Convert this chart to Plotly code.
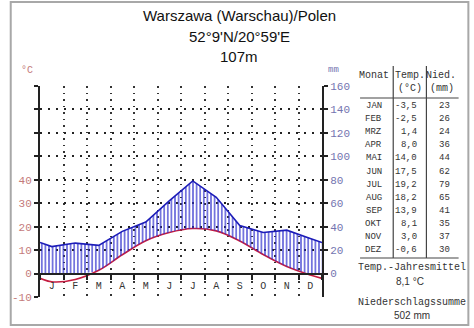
import numpy as np
import plotly.graph_objects as go

# Monthly climate normals, Warszawa
months = ["JAN", "FEB", "MRZ", "APR", "MAI", "JUN", "JUL", "AUG", "SEP", "OKT", "NOV", "DEZ"]
month_letters = ["J", "F", "M", "A", "M", "J", "J", "A", "S", "O", "N", "D"]
temp_c = [-3.5, -2.5, 1.4, 8.0, 14.0, 17.5, 19.2, 18.2, 13.9, 8.1, 3.0, -0.6]
precip_mm = [23, 26, 24, 36, 44, 62, 79, 65, 41, 35, 37, 30]
temp_labels = ["-3,5", "-2,5", "1,4", "8,0", "14,0", "17,5", "19,2", "18,2", "13,9", "8,1", "3,0", "-0,6"]
annual_mean = "8,1 °C"
annual_sum = "502 mm"

title_lines = ["Warszawa (Warschau)/Polen", "52°9'N/20°59'E", "107m"]
temp_ticks = [-10, 0, 10, 20, 30, 40, 50, 60, 70, 80]
temp_ticktext = ["-10", "0", "10", "20", "30", "40", "", "", "", ""]
precip_ticks = [0, 20, 40, 60, 80, 100, 120, 140, 160]

# Curves run across the whole year: month centres plus the year boundary,
# where the value wraps between December and January.
centres = np.arange(12) + 0.5
x_ext = np.concatenate([[0.0], centres, [12.0]])
t_arr = np.array(temp_c)
p_arr = np.array(precip_mm, dtype=float)
t_edge = (t_arr[0] + t_arr[-1]) / 2
p_edge = (p_arr[0] + p_arr[-1]) / 2
t_ext = np.concatenate([[t_edge], t_arr, [t_edge]])
p_ext = np.concatenate([[p_edge], p_arr, [p_edge]])

# Walter-Lieth scale: 10 °C corresponds to 20 mm
humid_base = np.maximum(2 * t_ext, 0)

W, H = 474, 328
L, R, T, B = 33, 322, 86, 297
PW, PH = R - L, B - T


def fx(px):
    return (px - L) / PW


def fy(py):
    return (B - py) / PH


MONO = "Liberation Mono"
SANS = "Liberation Sans"
INK = "#222222"
TEMP_C = "#c41c40"
PREC_C = "#1c1cb8"
TEMP_LBL = "#c47a7a"
PREC_LBL = "#7474b0"
TXT = "#333333"

fig = go.Figure()

# lower edge of the humid area (temperature on the mm scale, clipped at 0)
fig.add_trace(go.Scatter(
    x=x_ext, y=humid_base, yaxis="y2", mode="lines",
    line=dict(width=0, shape="spline", color="rgba(0,0,0,0)"),
    hoverinfo="skip", showlegend=False,
))
# precipitation with vertical hatching down to the temperature curve
fig.add_trace(go.Scatter(
    x=x_ext, y=p_ext, yaxis="y2", mode="lines",
    line=dict(color=PREC_C, width=1.6),
    fill="tonexty", fillcolor="rgba(0,0,0,0)",
    fillpattern=dict(shape="|", size=3.6, solidity=0.33, fgcolor="#2a2acc",
                     bgcolor="rgba(255,255,255,0)", fillmode="replace"),
    showlegend=False, name="Niederschlag",
))
# temperature
fig.add_trace(go.Scatter(
    x=x_ext, y=t_ext, yaxis="y", mode="lines",
    line=dict(color=TEMP_C, width=1.6, shape="spline"),
    showlegend=False, name="Temperatur",
))

fig.update_layout(
    width=W, height=H, autosize=False,
    margin=dict(l=L, r=W - R, t=T, b=H - B),
    plot_bgcolor="white", paper_bgcolor="white",
    showlegend=False,
    xaxis=dict(
        range=[0, 12], anchor="free", position=10 / 90,
        tickmode="array", tickvals=centres, ticktext=month_letters,
        ticks="", showgrid=False, zeroline=False,
        showline=True, linecolor=INK, linewidth=2,
        tickfont=dict(family=MONO, size=10, color=TXT),
        ticklabelstandoff=2,
        minor=dict(tickmode="array", tickvals=list(range(13)),
                   ticks="outside", ticklen=5, tickwidth=2, tickcolor=INK,
                   showgrid=True, gridcolor="#333333", griddash="1.5px,5px", gridwidth=1.5),
    ),
    yaxis=dict(
        range=[-10, 80], tickmode="array", tickvals=temp_ticks, ticktext=temp_ticktext,
        ticks="outside", ticklen=4, tickwidth=1.5, tickcolor=INK,
        showline=True, linecolor=INK, linewidth=2,
        showgrid=True, gridcolor=INK, griddash="2px,6px", gridwidth=1.5,
        zeroline=False,
        tickfont=dict(family=MONO, size=11, color=TEMP_LBL),
    ),
    yaxis2=dict(
        range=[-20, 160], overlaying="y", side="right", anchor="x",
        tickmode="array", tickvals=precip_ticks,
        ticks="outside", ticklen=4, tickwidth=1.5, tickcolor=INK,
        showline=True, linecolor=INK, linewidth=2,
        showgrid=False, zeroline=False,
        tickfont=dict(family=MONO, size=11, color=PREC_LBL),
    ),
)

ann = []


def label(px, py, text, font, xanchor="center"):
    ann.append(dict(x=fx(px), y=fy(py), xref="paper", yref="paper", text=text,
                    showarrow=False, xanchor=xanchor, yanchor="middle", font=font))


# title block
for i, line in enumerate(title_lines):
    label(237, 16 + 20 * i, line, dict(family=SANS, size=15, color="#111111"))

# unit labels
label(20, 70, "°C", dict(family=MONO, size=10, color=TEMP_LBL))
label(334, 70, "mm", dict(family=MONO, size=9, color=PREC_LBL))

# table header
hdr_font = dict(family=MONO, size=10, color=TXT)
label(375, 75, "Monat", hdr_font)
label(412, 75, "Temp.", hdr_font)
label(412, 88, "(°C)", hdr_font)
label(444, 75, "Nied.", hdr_font)
label(445, 88, "(mm)", hdr_font)

# table rows
row_font = dict(family=MONO, size=9, color=TXT)
for i, (m, tl, p) in enumerate(zip(months, temp_labels, precip_mm)):
    yy = 106 + 13.1 * i
    label(375, yy, m, row_font)
    label(421, yy, tl, row_font, xanchor="right")
    label(455, yy, str(p), row_font, xanchor="right")

# annual summary
label(414, 267, "Temp.-Jahresmittel", dict(family=MONO, size=10, color=TXT))
label(412, 281, annual_mean, dict(family=SANS, size=10, color=TXT))
label(414, 302, "Niederschlagssumme", dict(family=MONO, size=10, color=TXT))
label(414, 315, annual_sum, dict(family=SANS, size=10, color=TXT))

shapes = []
line_ink = dict(color="#444444", width=1.2)
# table rules
shapes.append(dict(type="line", xref="paper", yref="paper",
                   x0=fx(361), x1=fx(462), y0=fy(98), y1=fy(98), line=line_ink))
shapes.append(dict(type="line", xref="paper", yref="paper",
                   x0=fx(361), x1=fx(462), y0=fy(258), y1=fy(258), line=line_ink))
for cx in (395, 429):
    shapes.append(dict(type="line", xref="paper", yref="paper",
                       x0=fx(cx), x1=fx(cx), y0=fy(66), y1=fy(258), line=line_ink))
# outer frame
shapes.append(dict(type="rect", xref="paper", yref="paper",
                   x0=fx(3), x1=fx(472), y0=fy(2), y1=fy(325),
                   line=dict(color="#a8a8a8", width=2)))

fig.update_layout(annotations=ann, shapes=shapes)
fig.write_html("out.html")
